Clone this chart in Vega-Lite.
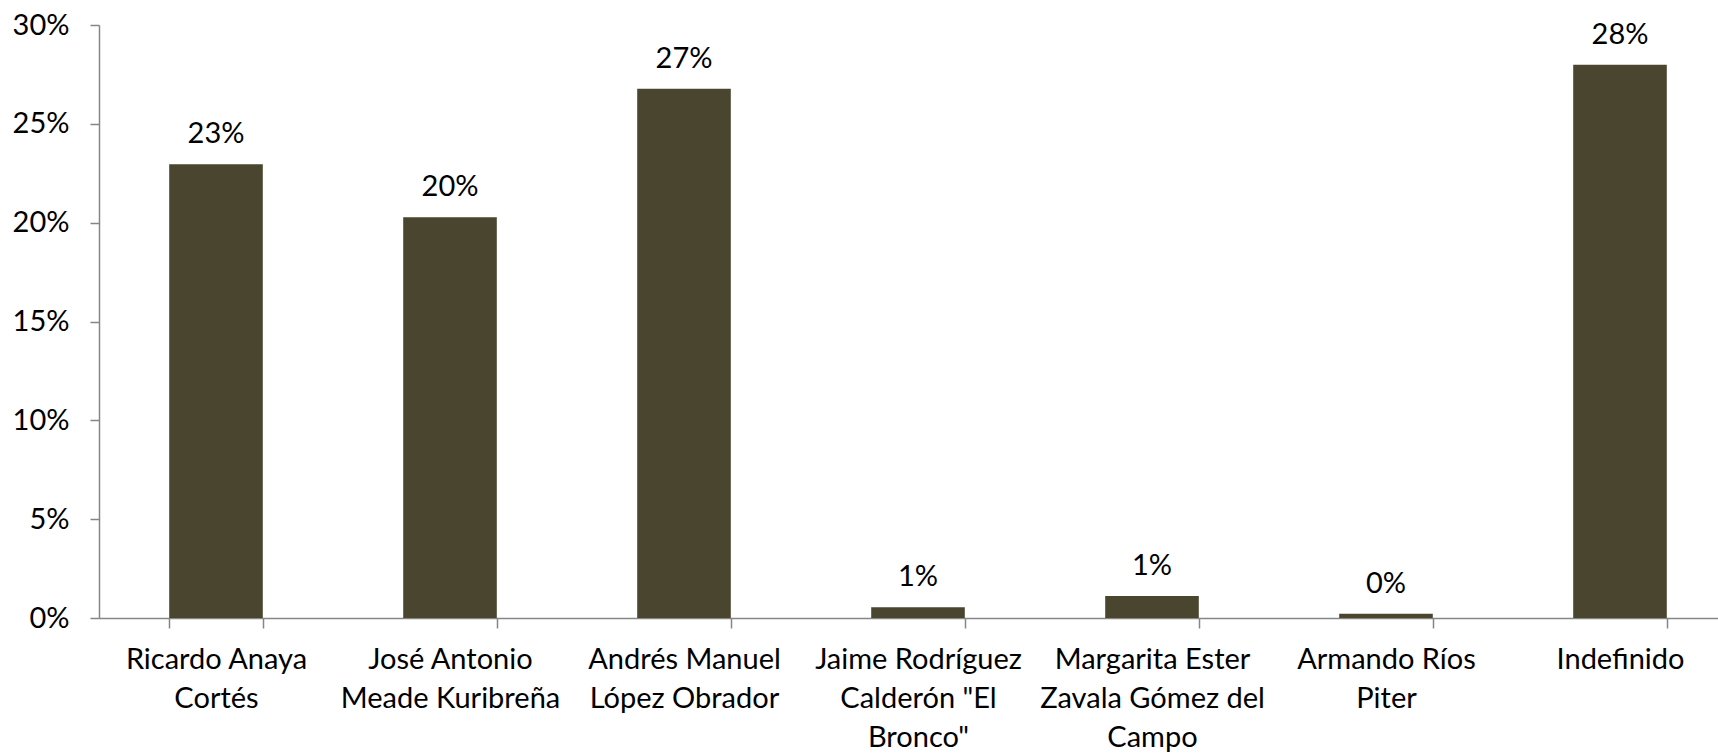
{
  "$schema": "https://vega.github.io/schema/vega-lite/v6.json",
  "autosize": {"type": "none"},
  "padding": {"left": 99, "top": 25, "right": 0, "bottom": 135},
  "width": 1619,
  "height": 593,
  "background": "white",
  "config": {
    "view": {"stroke": null},
    "font": "Lato",
    "axis": {"labelFont": "Lato", "labelFontSize": 29, "labelColor": "#000000", "domainColor": "#868686", "tickColor": "#868686", "domainWidth": 1.5, "tickWidth": 1.5, "grid": false, "title": null}
  },
  "data": {
    "values": [
      {"candidato": "Ricardo Anaya\nCortés", "valor": 0.2295},
      {"candidato": "José Antonio\nMeade Kuribreña", "valor": 0.2028},
      {"candidato": "Andrés Manuel\nLópez Obrador", "valor": 0.2677},
      {"candidato": "Jaime Rodríguez\nCalderón \"El\nBronco\"", "valor": 0.0054},
      {"candidato": "Margarita Ester\nZavala Gómez del\nCampo", "valor": 0.0111},
      {"candidato": "Armando Ríos\nPiter", "valor": 0.0022},
      {"candidato": "Indefinido", "valor": 0.2799}
    ]
  },
  "encoding": {
    "x": {
      "field": "candidato",
      "type": "nominal",
      "sort": null,
      "scale": {"range": [0, 1638], "paddingInner": 0.6, "paddingOuter": 0.3},
      "axis": {
        "labelAngle": 0,
        "labelExpr": "split(datum.label, '\\n')",
        "labelLineHeight": 39,
        "labelBaseline": "alphabetic",
        "labelPadding": 40,
        "tickSize": 10,
        "tickBand": "extent",
        "labelLimit": 0
      }
    },
    "y": {
      "field": "valor",
      "type": "quantitative",
      "scale": {"domain": [0, 0.3], "nice": false},
      "axis": {"values": [0, 0.05, 0.1, 0.15, 0.2, 0.25, 0.3], "format": ".0%", "tickSize": 9, "labelPadding": 21}
    }
  },
  "layer": [
    {"mark": {"type": "bar", "color": "#4a452e"}},
    {
      "mark": {"type": "text", "baseline": "alphabetic", "dy": -21, "fontSize": 29, "font": "Lato", "color": "#000000"},
      "encoding": {"text": {"field": "valor", "type": "quantitative", "format": ".0%"}}
    }
  ]
}
